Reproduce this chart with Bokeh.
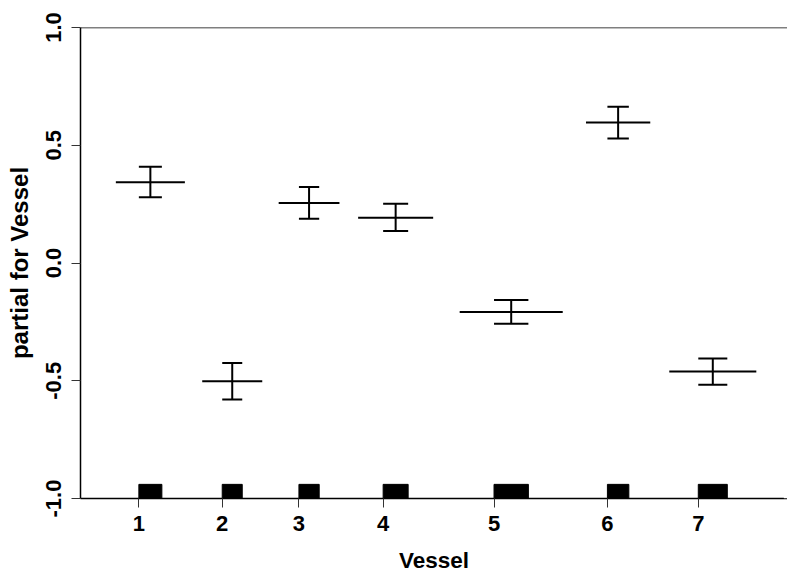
from bokeh.plotting import figure
from bokeh.models import Range1d, FixedTicker, Span
from bokeh.embed import file_html
from bokeh.resources import INLINE

# Data
levels = ["1", "2", "3", "4", "5", "6", "7"]
level_pos = [1.00, 2.00, 2.92, 3.93, 5.26, 6.62, 7.71]      # tick / rug-block left edge
rug_width = [0.276, 0.240, 0.243, 0.300, 0.412, 0.257, 0.348]  # width of each rug block
estimate = [0.343, -0.502, 0.255, 0.192, -0.208, 0.597, -0.461]
upper = [0.409, -0.425, 0.323, 0.252, -0.157, 0.664, -0.405]
lower = [0.279, -0.580, 0.188, 0.136, -0.258, 0.529, -0.517]
y_ticks = [-1.0, -0.5, 0.0, 0.5, 1.0]
y_tick_labels = ["-1.0", "-0.5", "0.0", "0.5", "1.0"]

FONT = "Liberation Sans"
X_START, X_END = 0.30, 8.78

p = figure(width=787, height=577, output_backend="svg", toolbar_location=None,
           x_range=Range1d(X_START, X_END), y_range=Range1d(-1.0, 1.0),
           min_border_left=80, min_border_right=0, min_border_top=27, min_border_bottom=79)
p.grid.visible = False
p.outline_line_color = None
p.background_fill_color = "white"
p.border_fill_color = "white"

# centres, segments, caps derived from the data
centers = [a + w / 2 for a, w in zip(level_pos, rug_width)]
seg_left = [a - w for a, w in zip(level_pos, rug_width)]
seg_right = [a + 2 * w for a, w in zip(level_pos, rug_width)]
cap_left = level_pos
cap_right = [a + w for a, w in zip(level_pos, rug_width)]

p.segment(x0=seg_left, y0=estimate, x1=seg_right, y1=estimate, line_color="black", line_width=2)
p.segment(x0=centers, y0=lower, x1=centers, y1=upper, line_color="black", line_width=2)
p.segment(x0=cap_left, y0=upper, x1=cap_right, y1=upper, line_color="black", line_width=2)
p.segment(x0=cap_left, y0=lower, x1=cap_right, y1=lower, line_color="black", line_width=2)

# rug blocks
rug_bottom = [-1.0] * len(levels)
rug_top = [-0.94] * len(levels)
p.quad(left=cap_left, right=cap_right, bottom=rug_bottom, top=rug_top,
       fill_color="black", line_color="black")

# hide the right frame edge (the reference's box continues past the picture)
p.add_layout(Span(location=X_END - 0.02, dimension="height", line_color="white", line_width=4))
# top frame line
p.add_layout(Span(location=1.0, dimension="width", line_color="black", line_width=1.5))

# axes
p.xaxis.ticker = FixedTicker(ticks=level_pos)
p.xaxis.major_label_overrides = {v: l for v, l in zip(level_pos, levels)}
p.yaxis.ticker = FixedTicker(ticks=y_ticks)
p.yaxis.major_label_overrides = {v: l for v, l in zip(y_ticks, y_tick_labels)}
p.yaxis.major_label_orientation = "vertical"

for ax in (p.xaxis, p.yaxis):
    ax.axis_line_color = "black"
    ax.axis_line_width = 1.5
    ax.major_tick_line_color = "#333333"
    ax.major_tick_out = 9
    ax.major_tick_in = 0
    ax.minor_tick_line_color = None
    ax.major_label_text_font = FONT
    ax.major_label_text_font_size = "22px"
    ax.major_label_text_font_style = "bold"
    ax.major_label_text_color = "black"
    ax.axis_label_text_font = FONT
    ax.axis_label_text_font_style = "bold"
    ax.axis_label_text_color = "black"

p.xaxis.axis_label = "Vessel"
p.yaxis.axis_label = "partial for Vessel"
p.xaxis.axis_label_text_font_size = "22.5px"
p.yaxis.axis_label_text_font_size = "24px"
p.xaxis.major_label_standoff = 8
p.yaxis.major_label_standoff = 11
p.xaxis.axis_label_standoff = 14
p.yaxis.axis_label_standoff = 10

open("out.html", "w").write(file_html(p, INLINE))
